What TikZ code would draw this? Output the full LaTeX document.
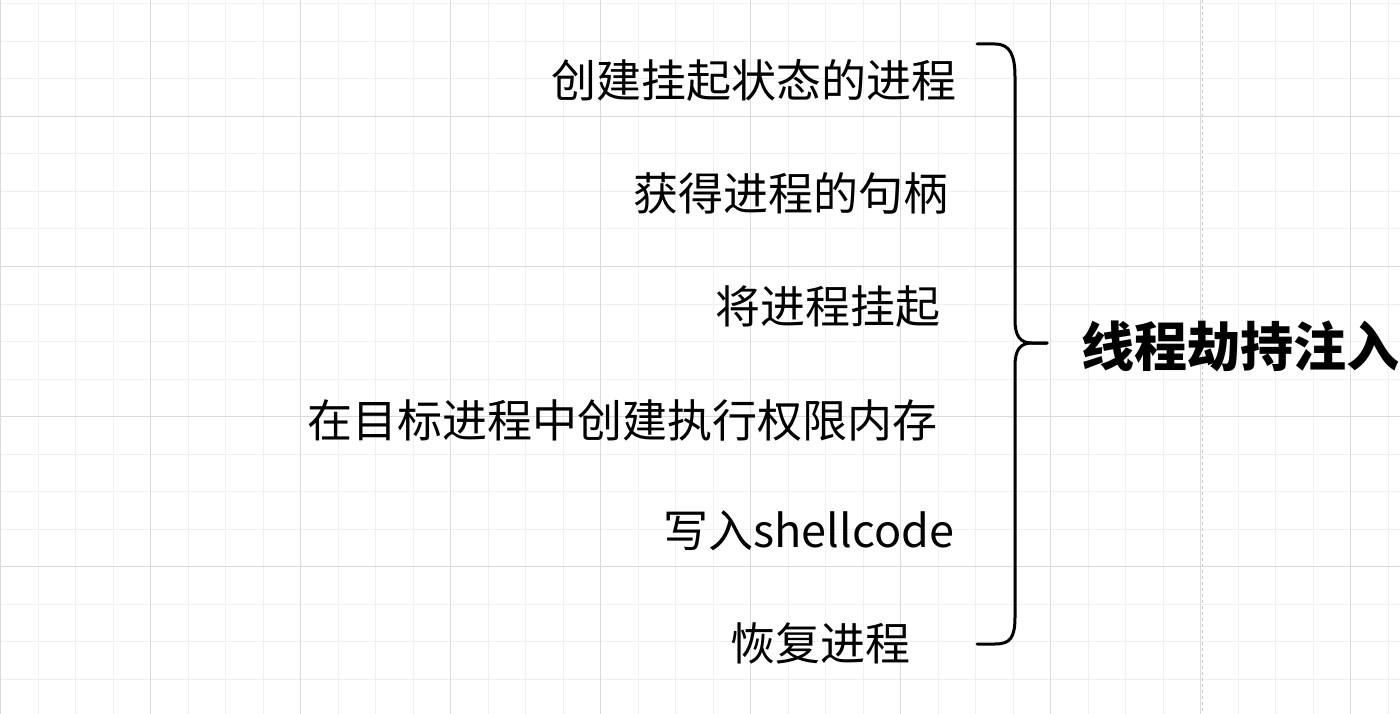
\documentclass[tikz,border=0pt]{standalone}
\usepackage{fontspec}
\newfontfamily\cjk{Noto Sans CJK SC}
\definecolor{gridminor}{HTML}{F0F0F0}
\definecolor{gridmajor}{HTML}{DADADA}
\definecolor{pageline}{HTML}{C8C8C8}
\tikzset{
  steptext/.style={inner sep=0pt, anchor=center, font=\cjk\fontsize{45}{54}\selectfont},
  titletext/.style={inner sep=0pt, anchor=center, font=\cjk\bfseries\fontsize{53}{64}\selectfont},
  bracestyle/.style={line width=3pt, line join=round, line cap=round}
}
\begin{document}
\begin{tikzpicture}[x=1pt,y=-1pt]
\useasboundingbox (0,0) rectangle (1400,714);
\fill[white] (0,0) rectangle (1400,714);
% minor grid
\foreach \i in {0,...,37} {
  \draw[gridminor, line width=1pt] ({0.5+37.5*\i},0) -- ({0.5+37.5*\i},714);
}
\foreach \j in {0,...,19} {
  \draw[gridminor, line width=1pt] (0,{4+37.5*\j}) -- (1400,{4+37.5*\j});
}
% major grid
\foreach \i in {0,...,9} {
  \draw[gridmajor, line width=1pt] ({0.5+150*\i},0) -- ({0.5+150*\i},714);
}
\foreach \j in {0,...,4} {
  \draw[gridmajor, line width=1pt] (0,{116.5+150*\j}) -- (1400,{116.5+150*\j});
}
% page break line
\draw[pageline, line width=1.5pt, dash pattern=on 3pt off 3pt] (1202.5,0) -- (1202.5,714);

% steps
\node[steptext] (s1) at (754,80) {创建挂起状态的进程};
\node[steptext] (s2) at (790.5,193.5) {获得进程的句柄};
\node[steptext] (s3) at (828,307) {将进程挂起};
\node[steptext] (s4) at (622,420) {在目标进程中创建执行权限内存};
\node[steptext] (s5) at (809,531) {写入shellcode};
\node[steptext] (s6) at (820,643.5) {恢复进程};

% brace
\draw[bracestyle] (977,44) -- (995,44) .. controls (1010,44) and (1015,55) .. (1015,77)
  -- (1015,320) .. controls (1015,336) and (1020,343) .. (1032,343) -- (1047,343);
\draw[bracestyle] (1047,343) -- (1032,343) .. controls (1020,343) and (1015,350) .. (1015,366)
  -- (1015,617) .. controls (1015,638) and (1010,644) .. (995,644) -- (977,644);

% title
\node[titletext] (title) at (1240.5,346) {线程劫持注入};
\end{tikzpicture}
\end{document}
